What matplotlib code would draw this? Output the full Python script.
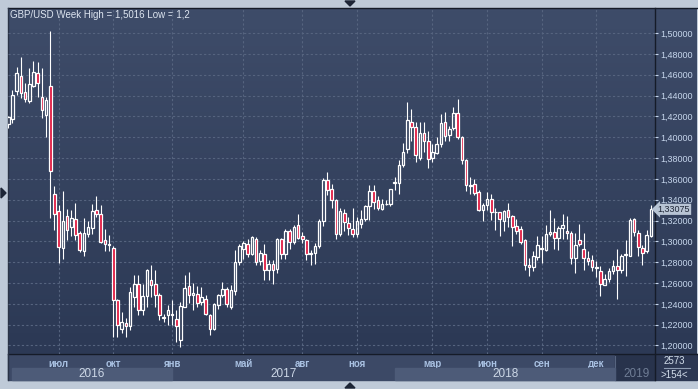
import numpy as np
import matplotlib.pyplot as plt
from matplotlib.colors import LinearSegmentedColormap
from matplotlib.patches import Rectangle, Polygon

# weekly GBP/USD candles (index 0 = leftmost, partly hidden)
opens = [1.4125, 1.4173, 1.4442, 1.4587, 1.4433, 1.4346, 1.4490, 1.4615, 1.4387, 1.4212,
         1.4490, 1.3457, 1.3288, 1.2940, 1.3240, 1.3138, 1.3218, 1.3080, 1.2910, 1.3070,
         1.3130, 1.3300, 1.3260, 1.3017, 1.2965, 1.2933, 1.2433, 1.2160, 1.2218, 1.2186,
         1.2465, 1.2590, 1.2343, 1.2471, 1.2631, 1.2590, 1.2487, 1.2273, 1.2290, 1.2300,
         1.2256, 1.2048, 1.2369, 1.2567, 1.2485, 1.2497, 1.2417, 1.2449, 1.2289, 1.2154,
         1.2385, 1.2481, 1.2545, 1.2369, 1.2523, 1.2801, 1.2928, 1.2970, 1.2882, 1.3024,
         1.2812, 1.2875, 1.2728, 1.2786, 1.2738, 1.3024, 1.2882, 1.3104, 1.2992, 1.3153,
         1.3050, 1.3014, 1.2875, 1.2885, 1.2953, 1.3196, 1.3586, 1.3506, 1.3393, 1.3072,
         1.3275, 1.3178, 1.3120, 1.3072, 1.3169, 1.3214, 1.3336, 1.3480, 1.3393, 1.3307,
         1.3358, 1.3361, 1.3562, 1.3560, 1.3729, 1.3889, 1.4144, 1.4096, 1.3803, 1.4039,
         1.3968, 1.3802, 1.3847, 1.3936, 1.4144, 1.4022, 1.4090, 1.4230, 1.4000, 1.3781,
         1.3532, 1.3551, 1.3471, 1.3302, 1.3350, 1.3404, 1.3277, 1.3283, 1.3200, 1.3302,
         1.3239, 1.3149, 1.3120, 1.3009, 1.2776, 1.2754, 1.2849, 1.2925, 1.2920, 1.3073,
         1.3085, 1.3031, 1.3127, 1.3101, 1.3079, 1.2840, 1.3015, 1.2926, 1.2840, 1.2824,
         1.2744, 1.2712, 1.2585, 1.2639, 1.2712, 1.2760, 1.2722, 1.2872, 1.2862, 1.3213,
         1.3079, 1.2936, 1.2904, 1.3047]
highs = [1.4205, 1.4452, 1.4670, 1.4769, 1.4520, 1.4663, 1.4731, 1.4720, 1.4663, 1.4387,
         1.5016, 1.3530, 1.3346, 1.3480, 1.3314, 1.3298, 1.3370, 1.3095, 1.3220, 1.3200,
         1.3355, 1.3440, 1.3346, 1.3120, 1.3060, 1.2960, 1.2445, 1.2326, 1.2262, 1.2561,
         1.2673, 1.2673, 1.2593, 1.2737, 1.2775, 1.2727, 1.2503, 1.2305, 1.2385, 1.2437,
         1.2337, 1.2417, 1.2673, 1.2705, 1.2600, 1.2567, 1.2561, 1.2481, 1.2298, 1.2410,
         1.2497, 1.2610, 1.2560, 1.2577, 1.2913, 1.2975, 1.3008, 1.3024, 1.3056, 1.3040,
         1.2914, 1.2978, 1.2818, 1.2824, 1.3030, 1.3030, 1.3120, 1.3120, 1.3155, 1.3265,
         1.3088, 1.3024, 1.2914, 1.2985, 1.3217, 1.3610, 1.3662, 1.3554, 1.3403, 1.3323,
         1.3307, 1.3233, 1.3323, 1.3233, 1.3297, 1.3352, 1.3538, 1.3544, 1.3432, 1.3409,
         1.3393, 1.3506, 1.3617, 1.3777, 1.3943, 1.4342, 1.4271, 1.4144, 1.4150, 1.4144,
         1.4064, 1.3930, 1.4000, 1.4224, 1.4240, 1.4112, 1.4294, 1.4367, 1.4016, 1.3793,
         1.3615, 1.3596, 1.3494, 1.3372, 1.3478, 1.3455, 1.3318, 1.3286, 1.3302, 1.3372,
         1.3254, 1.3213, 1.3149, 1.3022, 1.2840, 1.2904, 1.3054, 1.3047, 1.3159, 1.3302,
         1.3223, 1.3143, 1.3264, 1.3245, 1.3095, 1.3079, 1.3168, 1.3079, 1.2904, 1.2872,
         1.2808, 1.2766, 1.2690, 1.2744, 1.2824, 1.2926, 1.2881, 1.3009, 1.3223, 1.3223,
         1.3111, 1.2967, 1.3111, 1.3350]
lows = [1.4090, 1.4135, 1.4404, 1.4375, 1.4337, 1.4327, 1.4481, 1.4385, 1.4183, 1.4000,
        1.3228, 1.3106, 1.2794, 1.2835, 1.3011, 1.3050, 1.3011, 1.2900, 1.2860, 1.3040,
        1.3075, 1.3234, 1.2985, 1.2910, 1.2910, 1.2077, 1.2077, 1.2118, 1.2077, 1.2144,
        1.2369, 1.2290, 1.2290, 1.2369, 1.2465, 1.2369, 1.2240, 1.2224, 1.2193, 1.2193,
        1.2032, 1.1990, 1.2369, 1.2407, 1.2337, 1.2369, 1.2385, 1.2290, 1.2103, 1.2144,
        1.2353, 1.2465, 1.2365, 1.2353, 1.2481, 1.2769, 1.2834, 1.2850, 1.2870, 1.2770,
        1.2770, 1.2632, 1.2632, 1.2588, 1.2696, 1.2834, 1.2834, 1.2930, 1.2976, 1.3025,
        1.2982, 1.2824, 1.2770, 1.2778, 1.2940, 1.3150, 1.3442, 1.3323, 1.3024, 1.3056,
        1.3104, 1.3063, 1.3040, 1.3040, 1.3130, 1.3200, 1.3207, 1.3313, 1.3297, 1.3297,
        1.3345, 1.3336, 1.3490, 1.3458, 1.3713, 1.3847, 1.3968, 1.3761, 1.3780, 1.3857,
        1.3704, 1.3761, 1.3841, 1.3904, 1.3968, 1.3962, 1.4071, 1.3984, 1.3739, 1.3487,
        1.3455, 1.3446, 1.3293, 1.3200, 1.3302, 1.3207, 1.3105, 1.3047, 1.3101, 1.3133,
        1.2958, 1.3073, 1.2974, 1.2722, 1.2664, 1.2712, 1.2824, 1.2792, 1.2904, 1.3047,
        1.2926, 1.2920, 1.3022, 1.3022, 1.2786, 1.2696, 1.2952, 1.2728, 1.2776, 1.2719,
        1.2658, 1.2479, 1.2578, 1.2607, 1.2690, 1.2447, 1.2696, 1.2670, 1.2856, 1.3054,
        1.2856, 1.2776, 1.2888, 1.3041]
closes = [1.4190, 1.4404, 1.4615, 1.4423, 1.4365, 1.4510, 1.4625, 1.4519, 1.4260, 1.4356,
          1.3680, 1.3266, 1.2947, 1.3193, 1.3106, 1.3228, 1.3065, 1.2915, 1.3080, 1.3135,
          1.3290, 1.3266, 1.2995, 1.2970, 1.2975, 1.2433, 1.2193, 1.2230, 1.2186, 1.2513,
          1.2593, 1.2343, 1.2471, 1.2727, 1.2577, 1.2487, 1.2289, 1.2265, 1.2337, 1.2290,
          1.2183, 1.2375, 1.2555, 1.2480, 1.2500, 1.2407, 1.2465, 1.2298, 1.2154, 1.2394,
          1.2481, 1.2545, 1.2400, 1.2529, 1.2801, 1.2952, 1.2982, 1.2882, 1.3040, 1.2802,
          1.2888, 1.2722, 1.2779, 1.2722, 1.3024, 1.2876, 1.3104, 1.2992, 1.3137, 1.3034,
          1.3018, 1.2876, 1.2885, 1.2955, 1.3200, 1.3590, 1.3490, 1.3393, 1.3066, 1.3291,
          1.3185, 1.3130, 1.3072, 1.3191, 1.3217, 1.3336, 1.3480, 1.3377, 1.3323, 1.3361,
          1.3361, 1.3506, 1.3572, 1.3729, 1.3857, 1.4166, 1.4102, 1.3825, 1.4039, 1.3968,
          1.3793, 1.3857, 1.3936, 1.4134, 1.4016, 1.4080, 1.4233, 1.4000, 1.3777, 1.3542,
          1.3545, 1.3468, 1.3302, 1.3350, 1.3404, 1.3277, 1.3283, 1.3219, 1.3293, 1.3229,
          1.3136, 1.3101, 1.2990, 1.2770, 1.2754, 1.2856, 1.2967, 1.2932, 1.3073, 1.3089,
          1.3031, 1.3127, 1.3159, 1.3079, 1.2840, 1.2967, 1.2974, 1.2840, 1.2814, 1.2754,
          1.2754, 1.2594, 1.2639, 1.2712, 1.2760, 1.2728, 1.2856, 1.2878, 1.3207, 1.3085,
          1.2945, 1.2888, 1.3063, 1.33075]

month_pos = [12, 25, 39, 56, 70, 83, 101, 114, 127, 140]
month_labels = ['июл', 'окт', 'янв', 'май', 'авг', 'ноя', 'мар', 'июн', 'сен', 'дек']
year_labels = ['2016', '2017', '2018', '2019']
year_edges = [0.9, 39, 92.1, 144.5, 153.98]
price_ticks = np.arange(1.20, 1.5001, 0.02)

plt.rcParams['font.family'] = ['Liberation Sans', 'DejaVu Sans']

W, H = 698, 389
fig = plt.figure(figsize=(W / 100, H / 100), dpi=100, facecolor='#bfcad8')

# background layer in pixel coordinates
bg = fig.add_axes([0, 0, 1, 1])
bg.set_xlim(0, W)
bg.set_ylim(H, 0)
bg.axis('off')
grad = LinearSegmentedColormap.from_list('bg', ['#3e4c69', '#2c3955'])
bg.imshow(np.linspace(0, 1, 100).reshape(-1, 1), extent=[8, 697, 354, 8],
          aspect='auto', cmap=grad, zorder=0)
bg.add_patch(Rectangle((8, 354), 647, 26, color='#3c4966', zorder=1))
bg.add_patch(Rectangle((655, 354), 42, 26, color='#2c3752', zorder=1))
bg.add_patch(Rectangle((615, 354), 40, 26, color='#28334c', zorder=2))
bg.plot([8, 697], [8, 8], color='#151b28', lw=1, zorder=3)
bg.plot([8, 697], [354, 354], color='#151b28', lw=1, zorder=3)
bg.plot([655, 655], [8, 380], color='#151b28', lw=1, zorder=3)
bg.plot([8, 8], [8, 380], color='#2a3346', lw=1, zorder=3)
bg.plot([614.5, 614.5], [356, 380], color='#56647f', lw=0.8, zorder=3)
for pts in ([(345, 1), (355, 1), (350, 6)], [(345, 388), (355, 388), (350, 383)],
            [(1, 188), (1, 198), (6, 193)]):
    bg.add_patch(Polygon(pts, closed=True, color='#1d2536', zorder=3))
bg.text(10, 15, 'GBP/USD Week High = 1,5016 Low = 1,2', color='#dde5f0',
        fontsize=7, va='center', ha='left', zorder=4)
bg.text(674, 361, '2573', color='#d3deeb', fontsize=7, ha='center', va='center', zorder=4)
bg.plot([664, 690], [368, 368], color='#8e9cb2', lw=0.8, zorder=4)
bg.text(674, 375, '>154<', color='#d3deeb', fontsize=7, ha='center', va='center', zorder=4)

# price panel
ax = fig.add_axes([8 / W, 1 - 353.5 / H, 647 / W, 345.5 / H], facecolor='none')
ax.set_xlim(-0.07, 153.98)
ax.set_ylim(1.19231, 1.52404)
for s in ax.spines.values():
    s.set_visible(False)
ax.grid(True, color='#56647f', lw=0.8, ls=(0, (2, 2)))
ax.set_axisbelow(True)

x = np.arange(len(opens))
o = np.array(opens)
c = np.array(closes)
top = np.maximum(o, c)
bot = np.minimum(o, c)
ax.vlines(x, top, highs, color='white', lw=0.8, zorder=3)
ax.vlines(x, lows, bot, color='white', lw=0.8, zorder=3)
fills = np.where(c >= o, 'none', '#e0143c')
ax.bar(x, np.maximum(top - bot, 0.0004), bottom=bot, width=0.6, color=fills,
       edgecolor='white', linewidth=0.9, zorder=4)

ax.yaxis.tick_right()
ax.set_yticks(price_ticks)
ax.set_yticklabels([f'{v:.5f}'.replace('.', ',') for v in price_ticks])
ax.tick_params(axis='y', colors='#c6d6ec', labelsize=6.5, length=2, pad=1.5)
ax.set_xticks(month_pos)
ax.set_xticklabels(month_labels, fontweight='bold')
ax.tick_params(axis='x', colors='#a9c1e2', labelsize=7, length=0, pad=4)

# year bands under the month labels
tr = ax.get_xaxis_transform()
for k, lab in enumerate(year_labels):
    x0, x1 = year_edges[k], year_edges[k + 1]
    if k in (0, 2):
        ax.add_patch(Rectangle((x0, -0.0767), x1 - x0, 0.0347, transform=tr,
                               color='#4d5b78', clip_on=False, zorder=1))
    col = '#6f7d95' if k == 3 else '#ccd7e6'
    xm = (x0 + x1) / 2 if k < 3 else x0 + 5
    ax.text(xm, -0.0593, lab, transform=tr, color=col, fontsize=8.5,
            ha='center', va='center', clip_on=False)

ax.text(1.004, closes[-1], f'{closes[-1]:.5f}'.replace('.', ','),
        transform=ax.get_yaxis_transform(), color='#1e2636', fontsize=6.5,
        va='center', ha='left', zorder=6,
        bbox=dict(boxstyle='larrow,pad=0.12', fc='#b8c4d4', ec='none'))

fig.savefig('out.png', dpi=100, facecolor=fig.get_facecolor())
